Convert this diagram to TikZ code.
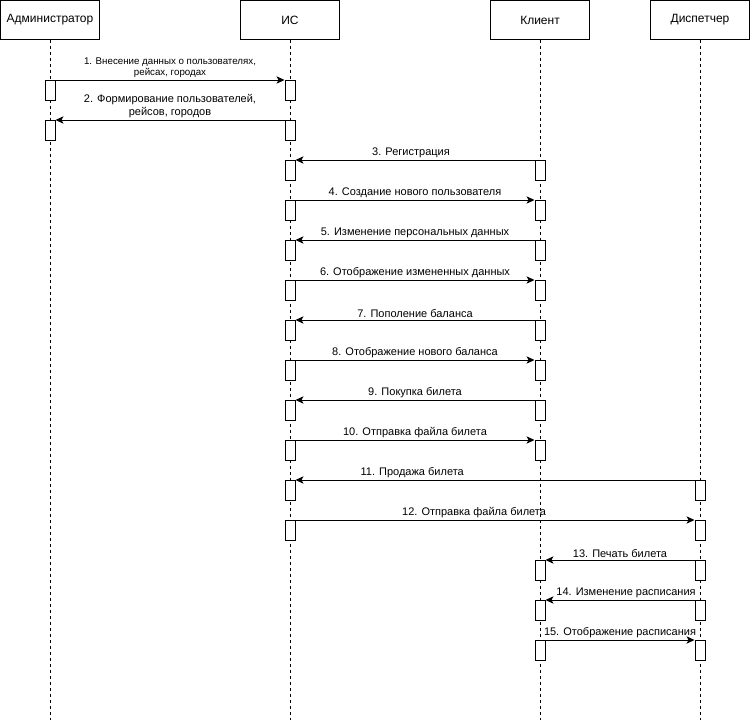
\documentclass[tikz,border=0pt]{standalone}
\usepackage{fontspec}
\setmainfont{Liberation Sans}
\usetikzlibrary{arrows.meta}
\begin{document}
\begin{tikzpicture}[x=0.75pt,y=-0.75pt,line width=0.75pt,
  actor/.style={draw, fill=white, minimum width=74.25pt, minimum height=29.25pt, inner sep=0pt, font=\fontsize{9}{11}\selectfont},
  act/.style={draw, fill=white, minimum width=7.5pt, minimum height=15pt, inner sep=0pt, anchor=north},
  life/.style={dash pattern=on 2.25pt off 2.25pt},
  msg/.style={-{Stealth[length=6pt,width=5.5pt,inset=1.5pt]}},
  lbl/.style={font=\fontsize{8.25}{9.6}\selectfont, above=1.5pt, inner sep=0pt, align=center},
  small/.style={font=\fontsize{7.3}{8.4}\selectfont}
]
\useasboundingbox (0,0) rectangle (752,721);

% participants
\node[actor] (adm) at (50,20)  {Администратор};
\node[actor] (is)  at (290,20) {ИС};
\node[actor] (cl)  at (540,20) {Клиент};
\node[actor] (dsp) at (700,20) {Диспетчер};

% lifelines
\coordinate (admEnd) at (50,720);
\coordinate (isEnd)  at (290,720);
\coordinate (clEnd)  at (540,720);
\coordinate (dspEnd) at (700,720);
\draw[life] (adm.south) -- (admEnd);
\draw[life] (is.south)  -- (isEnd);
\draw[life] (cl.south)  -- (clEnd);
\draw[life] (dsp.south) -- (dspEnd);

% activation bars
\foreach \y in {80,120} \node[act] (a\y) at (50,\y) {};
\foreach \y in {80,120,...,520} \node[act] (s\y) at (290,\y) {};
\foreach \y in {160,200,...,440,560,600,640} \node[act] (c\y) at (540,\y) {};
\foreach \y in {480,520,...,640} \node[act] (d\y) at (700,\y) {};

% messages
\draw[msg] (a80.north east) -- node[lbl,small]{1. Внесение данных о пользователях,\\рейсах, городах} (s80.north west);
\draw[msg] (s120.north west) -- node[lbl]{2. Формирование пользователей,\\рейсов, городов} (a120.north east);
\draw[msg] (c160.north west) -- node[lbl,xshift=-3]{3. Регистрация} (s160.north east);
\draw[msg] (s200.north east) -- node[lbl]{4. Создание нового пользователя} (c200.north west);
\draw[msg] (c240.north west) -- node[lbl]{5. Изменение персональных данных} (s240.north east);
\draw[msg] (s280.north east) -- node[lbl]{6. Отображение измененных данных} (c280.north west);
\draw[msg] (c320.north west) -- node[lbl]{7. Пополение баланса} (s320.north east);
\draw[msg] (s360.north east) -- node[lbl]{8. Отображение нового баланса} (c360.north west);
\draw[msg] (c400.north west) -- node[lbl]{9. Покупка билета} (s400.north east);
\draw[msg] (s440.north east) -- node[lbl]{10. Отправка файла билета} (c440.north west);
\draw[msg] (d480.north west) -- node[lbl,pos=0.7075]{11. Продажа билета} (s480.north east);
\draw[msg] (s520.north east) -- node[lbl,pos=0.4475]{12. Отправка файла билета} (d520.north west);
\draw[msg] (d560.north west) -- node[lbl]{13. Печать билета} (c560.north east);
\draw[msg] (d600.north west) -- node[lbl,xshift=4.5]{14. Изменение расписания} (c600.north east);
\draw[msg] (c640.north east) -- node[lbl]{15. Отображение расписания} (d640.north west);
\end{tikzpicture}
\end{document}
